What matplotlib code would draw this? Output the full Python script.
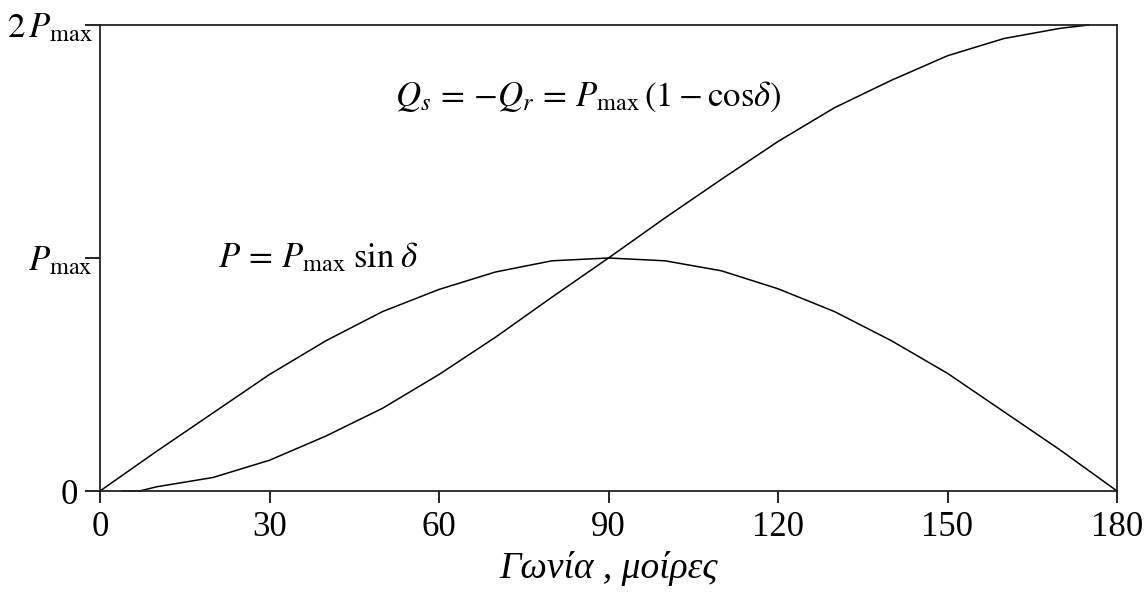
import matplotlib
matplotlib.use("Agg")
import matplotlib.pyplot as plt
from matplotlib.transforms import ScaledTranslation

plt.rcParams['font.family'] = ['Liberation Serif', 'DejaVu Serif']
plt.rcParams['mathtext.fontset'] = 'stix'

# γωνία δ σε μοίρες
delta_p = [0, 10, 20, 30, 40, 50, 60, 70, 80, 90, 100, 110, 120, 130, 140, 150, 160, 170, 180]
# P = Pmax sin δ  (σε μονάδες Pmax)
p_vals = [0.0, 0.17, 0.335, 0.50, 0.645, 0.77, 0.865, 0.94, 0.988, 1.0, 0.988, 0.945, 0.868, 0.77,
          0.646, 0.505, 0.34, 0.175, 0.0]

delta_q = [4, 7, 10, 20, 30, 40, 50, 60, 70, 80, 90, 100, 110, 120, 130, 140, 150, 160, 170, 175]
# Qs = -Qr = Pmax (1 - cos δ)
q_vals = [0.0, 0.0, 0.018, 0.058, 0.132, 0.236, 0.355, 0.50, 0.66, 0.832, 1.0, 1.172, 1.338, 1.50,
          1.645, 1.762, 1.868, 1.942, 1.986, 2.0]

x_ticks = [0, 30, 60, 90, 120, 150, 180]
y_ticks = [0, 1, 2]
y_labels = ['0', r'$P_{\max}$', r'$2\,P_{\max}$']

fig = plt.figure(figsize=(11.48, 6.04), dpi=100)
ax = fig.add_axes([100 / 1148, 113 / 604, 1017 / 1148, 466 / 604])

ax.plot(delta_p, p_vals, color='black', lw=1.1, clip_on=False)
ax.plot(delta_q, q_vals, color='black', lw=1.1, clip_on=False)

ax.set_xlim(0, 180)
ax.set_ylim(0, 2)
ax.set_xticks(x_ticks)
ax.set_xticklabels([str(t) for t in x_ticks])
ax.set_yticks(y_ticks)
ax.set_yticklabels(y_labels)

ax.tick_params(axis='x', direction='out', length=8.5, width=1.2, labelsize=25, pad=6)
ax.tick_params(axis='y', direction='out', length=10.5, width=1.2, labelsize=25, pad=5.5)
for s in ax.spines.values():
    s.set_linewidth(1.3)
    s.set_color('#222222')

# οι ετικέτες με δείκτη "max" πέφτουν πάνω στο tick, όπως στο πρωτότυπο
shift = ScaledTranslation(15 / 100, 0, fig.dpi_scale_trans)
for lab in ax.get_yticklabels()[1:]:
    lab.set_transform(lab.get_transform() + shift)

ax.set_xlabel('Γωνία , μοίρες', fontsize=27, style='italic', labelpad=5)

ax.text(20.8, 0.96, r'$P\,=\,P_{\max}\;\mathrm{sin}\;\delta$', fontsize=25, va='baseline')
ax.text(52.3, 1.655, r'$Q_s\,=\,{-}Q_r\,=\,P_{\max}\,(1-\mathrm{cos}\delta)$', fontsize=25,
        va='baseline')

fig.savefig('out.png', dpi=100)
